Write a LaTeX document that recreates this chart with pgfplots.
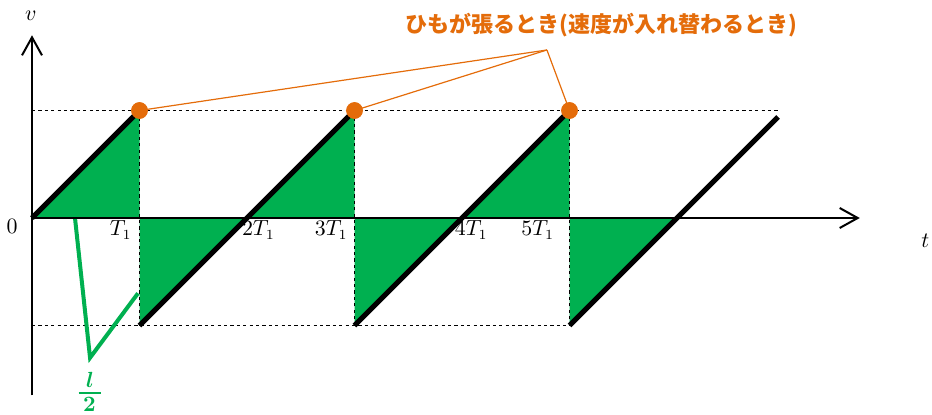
\documentclass[border=0pt]{standalone}
\usepackage{pgfplots}
\pgfplotsset{compat=1.18}
\usepackage{fontspec}
\usepackage{bm}
\usetikzlibrary{arrows.meta}
\newfontfamily\jp{Noto Sans CJK JP}
\definecolor{ora}{RGB}{228,108,10}
\definecolor{grn}{RGB}{0,176,80}
\begin{document}
\begin{tikzpicture}
\useasboundingbox (-16pt,-98pt) rectangle (450pt,109pt);
\begin{axis}[
  at={(0,0)}, anchor=origin,
  x=53.75pt, y=53.75pt,
  xmin=0, xmax=7.70, ymin=-1.65, ymax=1.70,
  axis lines=middle,
  axis line style={line width=1pt, -{Straight Barb[length=9pt,width=10pt,line width=1pt]}},
  xtick=\empty, ytick=\empty,
  clip=false, axis on top=true,
]
% green fills
\addplot[fill=grn, draw=none] coordinates {(0,0) (1,0) (1,1)} -- cycle;
\addplot[fill=grn, draw=none] coordinates {(1,0) (1,-1) (2,0)} -- cycle;
\addplot[fill=grn, draw=none] coordinates {(2,0) (3,0) (3,1)} -- cycle;
\addplot[fill=grn, draw=none] coordinates {(3,0) (3,-1) (4,0)} -- cycle;
\addplot[fill=grn, draw=none] coordinates {(4,0) (5,0) (5,1)} -- cycle;
\addplot[fill=grn, draw=none] coordinates {(5,0) (5,-1) (6,0)} -- cycle;
% dashed guides
\addplot[black, line width=0.5pt, dash pattern=on 1.6pt off 1.6pt] coordinates {(0,1) (6.94,1)};
\addplot[black, line width=0.5pt, dash pattern=on 1.6pt off 1.6pt] coordinates {(0,-1) (5,-1)};
\addplot[black, line width=0.5pt, dash pattern=on 1.6pt off 1.6pt] coordinates {(1,-1) (1,1)};
\addplot[black, line width=0.5pt, dash pattern=on 1.6pt off 1.6pt] coordinates {(3,-1) (3,1)};
\addplot[black, line width=0.5pt, dash pattern=on 1.6pt off 1.6pt] coordinates {(5,-1) (5,1)};
% velocity lines
\addplot[black, line width=2.5pt] coordinates {(0,0) (1,1)};
\addplot[black, line width=2.5pt] coordinates {(1,-1) (3,1)};
\addplot[black, line width=2.5pt] coordinates {(3,-1) (5,1)};
\addplot[black, line width=2.5pt] coordinates {(5,-1) (6.94,0.94)};
% orange annotation
\addplot[ora, line width=0.6pt] coordinates {(1,1) (4.79,1.563)};
\addplot[ora, line width=0.6pt] coordinates {(3,1) (4.79,1.563)};
\addplot[ora, line width=0.6pt] coordinates {(5,1) (4.79,1.563)};
\addplot[only marks, mark=*, mark size=4pt, ora] coordinates {(1,1) (3,1) (5,1)};
\node[ora, font=\jp\bfseries\fontsize{11}{13}\selectfont, inner sep=0] at (axis cs:5.293,1.795) {ひもが張るとき(速度が入れ替わるとき)};
% green l/2 annotation
\addplot[grn, line width=2pt, line join=miter] coordinates {(0.40,0) (0.54,-1.30) (0.986,-0.70)};
\node[grn, inner sep=0, anchor=base, font=\fontsize{10.5}{12}\selectfont] at (axis cs:0.54,-1.581) {$\bm{l}$};
\node[grn, inner sep=0, font=\fontsize{10.5}{12}\selectfont] at (axis cs:0.535,-1.628) {\rule{11pt}{1pt}};
\node[grn, inner sep=0, anchor=base, font=\fontsize{10.5}{12}\selectfont] at (axis cs:0.535,-1.80) {$\bm{2}$};
% labels
\node[font=\fontsize{10.5}{12}\selectfont, inner sep=0] at (axis cs:-0.186,-0.08) {$0$};
\node[font=\fontsize{10.5}{12}\selectfont, inner sep=0] at (axis cs:-0.01,1.88) {$v$};
\node[font=\fontsize{10.5}{12}\selectfont, inner sep=0] at (axis cs:8.31,-0.21) {$t$};
\node[font=\fontsize{10.5}{12}\selectfont, inner sep=0, anchor=base east] at (axis cs:0.93,-0.167) {$T_1$};
\node[font=\fontsize{10.5}{12}\selectfont, inner sep=0, anchor=base west] at (axis cs:1.95,-0.167) {$2T_1$};
\node[font=\fontsize{10.5}{12}\selectfont, inner sep=0, anchor=base east] at (axis cs:2.94,-0.167) {$3T_1$};
\node[font=\fontsize{10.5}{12}\selectfont, inner sep=0, anchor=base west] at (axis cs:3.93,-0.167) {$4T_1$};
\node[font=\fontsize{10.5}{12}\selectfont, inner sep=0, anchor=base east] at (axis cs:4.86,-0.167) {$5T_1$};
\end{axis}
\end{tikzpicture}
\end{document}
